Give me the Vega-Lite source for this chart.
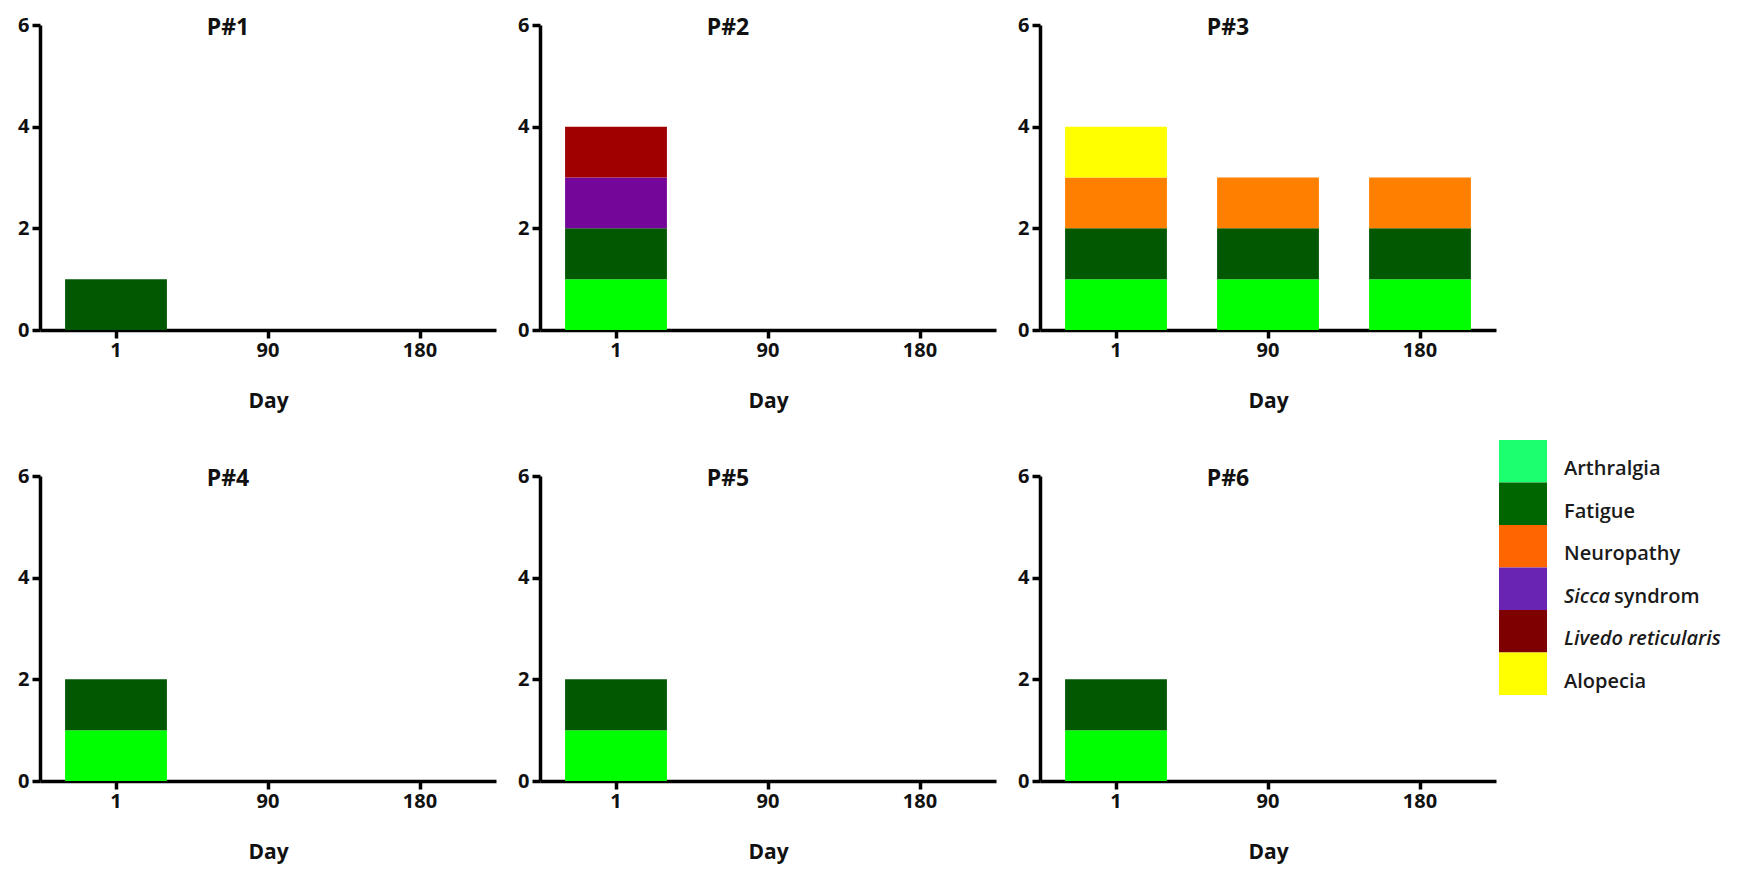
{
  "$schema": "https://vega.github.io/schema/vega-lite/v6.json",
  "background": "white",
  "padding": {"left": 17, "top": 15, "right": 0, "bottom": 10},
  "config": {
    "view": {"stroke": null},
    "font": "Open Sans",
    "axis": {"domainColor": "black", "domainWidth": 3.5, "tickColor": "black", "tickWidth": 3.5, "tickSize": 8, "labelFont": "Open Sans", "labelFontWeight": "bold", "labelFontSize": 20, "labelColor": "#111111", "titleFont": "Open Sans", "titleFontSize": 21, "titleFontWeight": "bold", "titleColor": "#111111", "grid": false},
    "axisX": {"labelAngle": 0, "labelPadding": 2, "titlePadding": 30},
    "axisY": {"labelPadding": 3},
    "title": {"font": "Open Sans", "fontSize": 23, "fontWeight": "bold", "color": "#111111", "anchor": "middle", "dx": -40, "offset": -25, "baseline": "alphabetic"}
  },
  "datasets": {
    "bars": [
      {"p": "P#1", "day": "1", "sym": "Fatigue", "k": 2, "n": 1},
      {"p": "P#2", "day": "1", "sym": "Arthralgia", "k": 1, "n": 1},
      {"p": "P#2", "day": "1", "sym": "Fatigue", "k": 2, "n": 1},
      {"p": "P#2", "day": "1", "sym": "Sicca syndrom", "k": 4, "n": 1},
      {"p": "P#2", "day": "1", "sym": "Livedo reticularis", "k": 5, "n": 1},
      {"p": "P#3", "day": "1", "sym": "Arthralgia", "k": 1, "n": 1},
      {"p": "P#3", "day": "1", "sym": "Fatigue", "k": 2, "n": 1},
      {"p": "P#3", "day": "1", "sym": "Neuropathy", "k": 3, "n": 1},
      {"p": "P#3", "day": "1", "sym": "Alopecia", "k": 6, "n": 1},
      {"p": "P#3", "day": "90", "sym": "Arthralgia", "k": 1, "n": 1},
      {"p": "P#3", "day": "90", "sym": "Fatigue", "k": 2, "n": 1},
      {"p": "P#3", "day": "90", "sym": "Neuropathy", "k": 3, "n": 1},
      {"p": "P#3", "day": "180", "sym": "Arthralgia", "k": 1, "n": 1},
      {"p": "P#3", "day": "180", "sym": "Fatigue", "k": 2, "n": 1},
      {"p": "P#3", "day": "180", "sym": "Neuropathy", "k": 3, "n": 1},
      {"p": "P#4", "day": "1", "sym": "Arthralgia", "k": 1, "n": 1},
      {"p": "P#4", "day": "1", "sym": "Fatigue", "k": 2, "n": 1},
      {"p": "P#5", "day": "1", "sym": "Arthralgia", "k": 1, "n": 1},
      {"p": "P#5", "day": "1", "sym": "Fatigue", "k": 2, "n": 1},
      {"p": "P#6", "day": "1", "sym": "Arthralgia", "k": 1, "n": 1},
      {"p": "P#6", "day": "1", "sym": "Fatigue", "k": 2, "n": 1}
    ],
    "legend": [
      {"sym": "Arthralgia", "plain": "Arthralgia", "ital": "", "rest": ""},
      {"sym": "Fatigue", "plain": "Fatigue", "ital": "", "rest": ""},
      {"sym": "Neuropathy", "plain": "Neuropathy", "ital": "", "rest": ""},
      {"sym": "Sicca syndrom", "plain": "", "ital": "Sicca", "rest": "syndrom"},
      {"sym": "Livedo reticularis", "plain": "", "ital": "Livedo reticularis", "rest": ""},
      {"sym": "Alopecia", "plain": "Alopecia", "ital": "", "rest": ""}
    ]
  },
  "data": {"name": "bars"},
  "columns": 4,
  "spacing": {"column": 44, "row": 146},
  "bounds": "flush",
  "align": "each",
  "concat": [
    {"title": "P#1", "width": 456, "height": 305, "transform": [{"filter": "datum.p === 'P#1'"}], "mark": "bar",
     "encoding": {
      "x": {"field": "day", "type": "nominal", "scale": {"domain": ["1", "90", "180"], "paddingInner": 0.33, "paddingOuter": 0.165}, "axis": {"title": "Day"}},
      "y": {"field": "n", "type": "quantitative", "stack": "zero", "scale": {"domain": [0, 6]}, "axis": {"values": [0, 2, 4, 6], "title": null}},
      "color": {"field": "sym", "type": "nominal", "scale": {"domain": ["Arthralgia", "Fatigue", "Neuropathy", "Sicca syndrom", "Livedo reticularis", "Alopecia"], "range": ["#00FF00", "#015801", "#FF8000", "#740699", "#A00000", "#FFFF00"]}, "legend": null},
      "order": {"field": "k", "type": "quantitative", "sort": "ascending"}}},
    {"title": "P#2", "width": 456, "height": 305, "transform": [{"filter": "datum.p === 'P#2'"}], "mark": "bar",
     "encoding": {
      "x": {"field": "day", "type": "nominal", "scale": {"domain": ["1", "90", "180"], "paddingInner": 0.33, "paddingOuter": 0.165}, "axis": {"title": "Day"}},
      "y": {"field": "n", "type": "quantitative", "stack": "zero", "scale": {"domain": [0, 6]}, "axis": {"values": [0, 2, 4, 6], "title": null}},
      "color": {"field": "sym", "type": "nominal", "scale": {"domain": ["Arthralgia", "Fatigue", "Neuropathy", "Sicca syndrom", "Livedo reticularis", "Alopecia"], "range": ["#00FF00", "#015801", "#FF8000", "#740699", "#A00000", "#FFFF00"]}, "legend": null},
      "order": {"field": "k", "type": "quantitative", "sort": "ascending"}}},
    {"title": "P#3", "width": 456, "height": 305, "transform": [{"filter": "datum.p === 'P#3'"}], "mark": "bar",
     "encoding": {
      "x": {"field": "day", "type": "nominal", "scale": {"domain": ["1", "90", "180"], "paddingInner": 0.33, "paddingOuter": 0.165}, "axis": {"title": "Day"}},
      "y": {"field": "n", "type": "quantitative", "stack": "zero", "scale": {"domain": [0, 6]}, "axis": {"values": [0, 2, 4, 6], "title": null}},
      "color": {"field": "sym", "type": "nominal", "scale": {"domain": ["Arthralgia", "Fatigue", "Neuropathy", "Sicca syndrom", "Livedo reticularis", "Alopecia"], "range": ["#00FF00", "#015801", "#FF8000", "#740699", "#A00000", "#FFFF00"]}, "legend": null},
      "order": {"field": "k", "type": "quantitative", "sort": "ascending"}}},
    {"data": {"values": []}, "width": 10, "height": 10, "mark": "point", "encoding": {}},
    {"title": "P#4", "width": 456, "height": 305, "transform": [{"filter": "datum.p === 'P#4'"}], "mark": "bar",
     "encoding": {
      "x": {"field": "day", "type": "nominal", "scale": {"domain": ["1", "90", "180"], "paddingInner": 0.33, "paddingOuter": 0.165}, "axis": {"title": "Day"}},
      "y": {"field": "n", "type": "quantitative", "stack": "zero", "scale": {"domain": [0, 6]}, "axis": {"values": [0, 2, 4, 6], "title": null}},
      "color": {"field": "sym", "type": "nominal", "scale": {"domain": ["Arthralgia", "Fatigue", "Neuropathy", "Sicca syndrom", "Livedo reticularis", "Alopecia"], "range": ["#00FF00", "#015801", "#FF8000", "#740699", "#A00000", "#FFFF00"]}, "legend": null},
      "order": {"field": "k", "type": "quantitative", "sort": "ascending"}}},
    {"title": "P#5", "width": 456, "height": 305, "transform": [{"filter": "datum.p === 'P#5'"}], "mark": "bar",
     "encoding": {
      "x": {"field": "day", "type": "nominal", "scale": {"domain": ["1", "90", "180"], "paddingInner": 0.33, "paddingOuter": 0.165}, "axis": {"title": "Day"}},
      "y": {"field": "n", "type": "quantitative", "stack": "zero", "scale": {"domain": [0, 6]}, "axis": {"values": [0, 2, 4, 6], "title": null}},
      "color": {"field": "sym", "type": "nominal", "scale": {"domain": ["Arthralgia", "Fatigue", "Neuropathy", "Sicca syndrom", "Livedo reticularis", "Alopecia"], "range": ["#00FF00", "#015801", "#FF8000", "#740699", "#A00000", "#FFFF00"]}, "legend": null},
      "order": {"field": "k", "type": "quantitative", "sort": "ascending"}}},
    {"title": "P#6", "width": 456, "height": 305, "transform": [{"filter": "datum.p === 'P#6'"}], "mark": "bar",
     "encoding": {
      "x": {"field": "day", "type": "nominal", "scale": {"domain": ["1", "90", "180"], "paddingInner": 0.33, "paddingOuter": 0.165}, "axis": {"title": "Day"}},
      "y": {"field": "n", "type": "quantitative", "stack": "zero", "scale": {"domain": [0, 6]}, "axis": {"values": [0, 2, 4, 6], "title": null}},
      "color": {"field": "sym", "type": "nominal", "scale": {"domain": ["Arthralgia", "Fatigue", "Neuropathy", "Sicca syndrom", "Livedo reticularis", "Alopecia"], "range": ["#00FF00", "#015801", "#FF8000", "#740699", "#A00000", "#FFFF00"]}, "legend": null},
      "order": {"field": "k", "type": "quantitative", "sort": "ascending"}}},
    {"data": {"name": "legend"}, "width": 200, "height": 305,
     "encoding": {
       "y": {"field": "sym", "type": "nominal", "sort": null, "scale": {"range": [-36, 219], "paddingInner": 0, "paddingOuter": 0}, "axis": null},
       "x": {"datum": "sw", "type": "nominal", "scale": {"range": [-41, 7], "paddingInner": 0, "paddingOuter": 0}, "axis": null}
     },
     "layer": [
       {"mark": {"type": "rect"},
        "encoding": {"fill": {"field": "sym", "type": "nominal", "scale": {"domain": ["Arthralgia", "Fatigue", "Neuropathy", "Sicca syndrom", "Livedo reticularis", "Alopecia"], "range": ["#1CFF6E", "#006600", "#FF6600", "#6A24B4", "#7F0000", "#FFFF00"]}, "legend": null}}},
       {"mark": {"type": "text", "align": "left", "baseline": "middle", "dx": 17, "dy": 8, "fontSize": 20, "font": "Open Sans", "fontWeight": 600, "color": "#1a1a1a"},
        "encoding": {"x": {"datum": "sw", "type": "nominal", "bandPosition": 1}, "text": {"field": "plain"}}},
       {"mark": {"type": "text", "align": "left", "baseline": "middle", "dx": 17, "dy": 8, "fontSize": 20, "font": "Open Sans", "fontWeight": 600, "fontStyle": "italic", "color": "#1a1a1a"},
        "encoding": {"x": {"datum": "sw", "type": "nominal", "bandPosition": 1}, "text": {"field": "ital"}}},
       {"mark": {"type": "text", "align": "left", "baseline": "middle", "dx": 67, "dy": 8, "fontSize": 20, "font": "Open Sans", "fontWeight": 600, "color": "#1a1a1a"},
        "encoding": {"x": {"datum": "sw", "type": "nominal", "bandPosition": 1}, "text": {"field": "rest"}}}
     ]}
  ]
}
